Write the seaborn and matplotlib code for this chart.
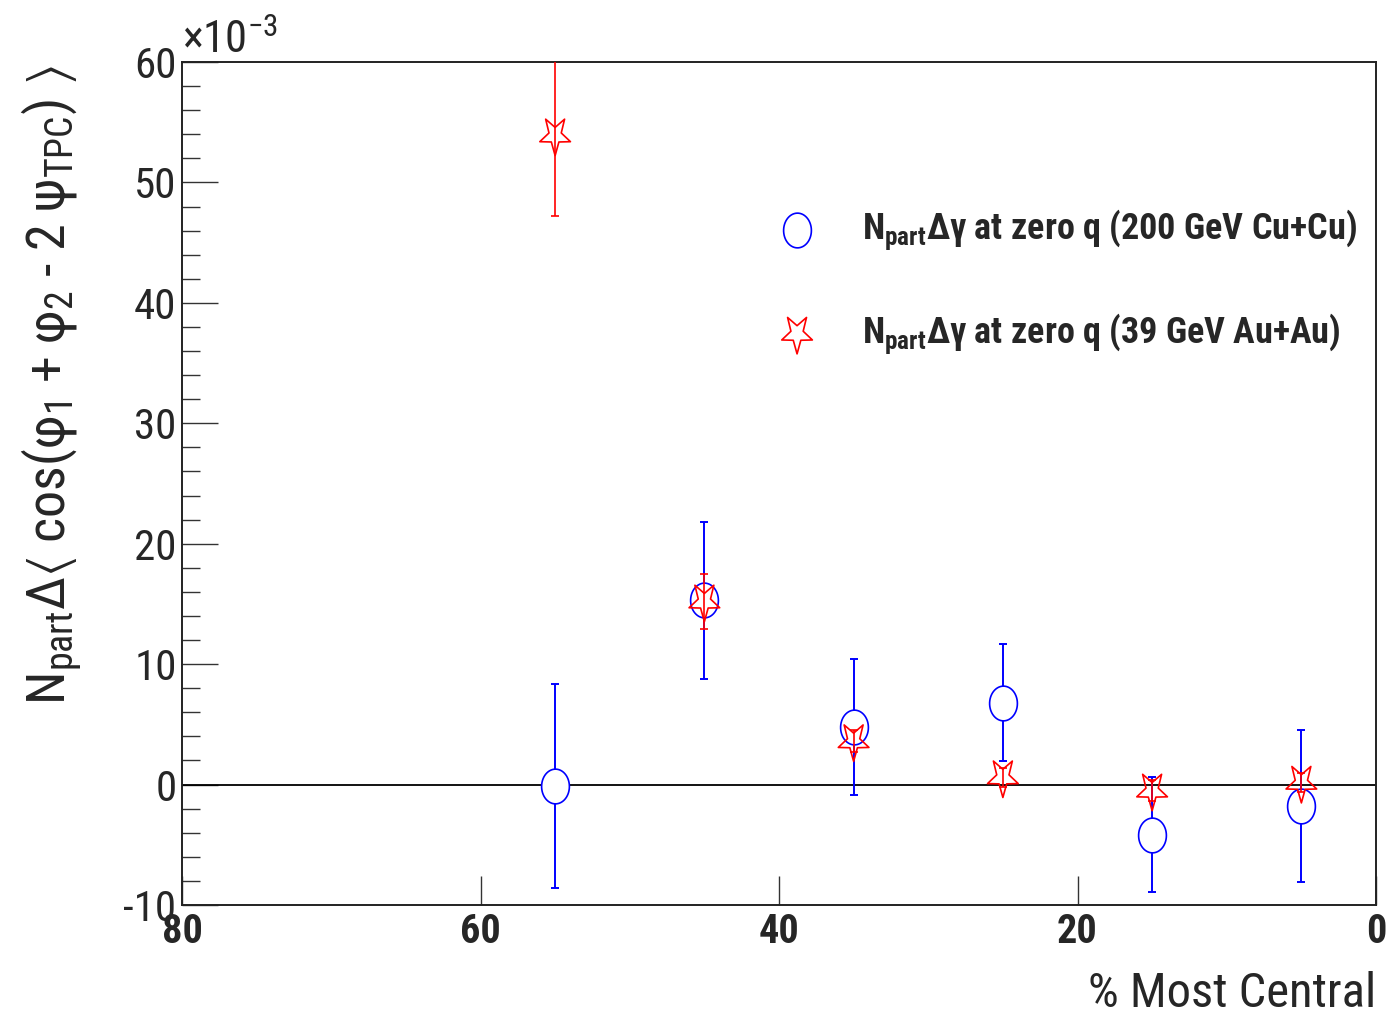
import numpy as np
import pandas as pd
import matplotlib
matplotlib.use('Agg')
import matplotlib.pyplot as plt
import seaborn as sns
from matplotlib.path import Path
from matplotlib.ticker import MultipleLocator, FixedLocator
from matplotlib import font_manager

# ---------------- data (values in units of 1e-3) ----------------
centrality = [55, 45, 35, 25, 15, 5]
cucu_val = [-0.1, 15.3, 4.8, 6.8, -4.15, -1.75]
cucu_err = [8.45, 6.5, 5.65, 4.85, 4.8, 6.3]
auau_val = [53.9, 15.2, 3.6, 0.6, -0.5, 0.15]
auau_err = [6.7, 2.3, 0.9, 0.8, 0.9, 0.8]
xticks = [80, 60, 40, 20, 0]
yticks = [-10, 0, 10, 20, 30, 40, 50, 60]
label_cucu = r"N$_{\mathbf{part}}$Δγ at zero q (200 GeV Cu+Cu)"
label_auau = r"N$_{\mathbf{part}}$Δγ at zero q (39 GeV Au+Au)"

df_cu = pd.DataFrame({"cent": centrality, "val": cucu_val, "err": cucu_err})
df_au = pd.DataFrame({"cent": centrality, "val": auau_val, "err": auau_err})

# ---------------- style ----------------
sns.set_theme(style='ticks')
names = {f.name for f in font_manager.fontManager.ttflist}
narrow = 'Liberation Sans'
for cand in ['Roboto Condensed', 'PT Sans Narrow', 'Liberation Sans Narrow']:
    if cand in names:
        narrow = cand
        break
plt.rcParams['font.family'] = [narrow, 'DejaVu Sans']
plt.rcParams['axes.unicode_minus'] = False
plt.rcParams['mathtext.fontset'] = 'custom'
plt.rcParams['mathtext.rm'] = narrow
plt.rcParams['mathtext.it'] = narrow + ':italic'
plt.rcParams['mathtext.bf'] = narrow + ':bold'
plt.rcParams['mathtext.fallback'] = 'stixsans'

# custom markers: vertically stretched ellipse and inverted star
t = np.linspace(0, 2 * np.pi, 60)
ell = Path(np.column_stack([0.8 * np.cos(t), np.sin(t)]), closed=True)
ang = np.deg2rad(-90 + np.arange(10) * 36)
rad = np.where(np.arange(10) % 2 == 0, 1.0, 0.40)
sv = np.column_stack([rad * np.cos(ang), 1.25 * rad * np.sin(ang)])
sv = np.vstack([sv, sv[:1]])
star = Path(sv, closed=True)

fig = plt.figure(figsize=(13.94, 10.19), dpi=100)
ax = fig.add_axes([182 / 1394, 1 - 905 / 1019, (1376 - 182) / 1394, (905 - 62) / 1019])

ax.axhline(0, color='black', lw=1.3, zorder=1)

ax.errorbar(df_cu.cent, df_cu.val, yerr=df_cu.err, fmt='none', ecolor='blue',
            elinewidth=1.4, capsize=3, capthick=1.4, zorder=2)
sns.scatterplot(data=df_cu, x='cent', y='val', marker=ell, s=25 ** 2,
                facecolor='white', edgecolor='blue', linewidth=1.2,
                label=label_cucu, ax=ax, zorder=3)
ax.errorbar(df_au.cent, df_au.val, yerr=df_au.err, fmt='none', ecolor='red',
            elinewidth=1.2, capsize=3, capthick=1.2, zorder=4)
sns.scatterplot(data=df_au, x='cent', y='val', marker=star, s=29 ** 2,
                facecolor='none', edgecolor='red', linewidth=1.2,
                label=label_auau, ax=ax, zorder=5)

ax.set_xlim(80, 0)
ax.set_ylim(-10, 60)
ax.set_xlabel('')
ax.set_ylabel('')
ax.xaxis.set_major_locator(FixedLocator(xticks))
ax.yaxis.set_major_locator(FixedLocator(yticks))
ax.yaxis.set_minor_locator(MultipleLocator(2))
ax.tick_params(axis='y', which='major', direction='in', length=26, width=1.0,
               labelsize=31, pad=4, left=True, right=False, color='#333333')
ax.tick_params(axis='y', which='minor', direction='in', length=13, width=1.0,
               left=True, right=False, color='#333333')
ax.tick_params(axis='x', which='major', direction='in', length=21, width=1.0,
               labelsize=29, pad=6, bottom=True, top=False, color='#333333')
ax.tick_params(axis='x', which='minor', bottom=False, top=False)
for lbl in ax.get_xticklabels():
    lbl.set_fontweight('bold')
for sp in ax.spines.values():
    sp.set_color('#222222')
    sp.set_linewidth(1.4)

ax.text(0.0, 1.0, r"$\times$10$^{\mathrm{-3}}$", transform=ax.transAxes,
        ha='left', va='bottom', fontsize=32)

fig.text(52 / 1394, 1 - 385 / 1019,
         r"N$_{\mathrm{part}}$Δ$\langle$ cos(φ$_{\mathrm{1}}$ + φ$_{\mathrm{2}}$ - 2 ψ$_{\mathrm{TPC}}$) $\rangle$",
         rotation=90, ha='center', va='center', fontsize=39)

fig.text(1376 / 1394, 1 - 1017 / 1019, "% Most Central", ha='right', va='bottom',
         fontsize=35)

leg = ax.legend(loc='upper left', bbox_to_anchor=(0.50, 0.827), frameon=False,
                prop={'weight': 'bold', 'size': 26}, handlelength=1.0,
                handletextpad=1.3, labelspacing=1.65, borderpad=0, borderaxespad=0,
                scatterpoints=1)

fig.savefig('out.png', dpi=100)
